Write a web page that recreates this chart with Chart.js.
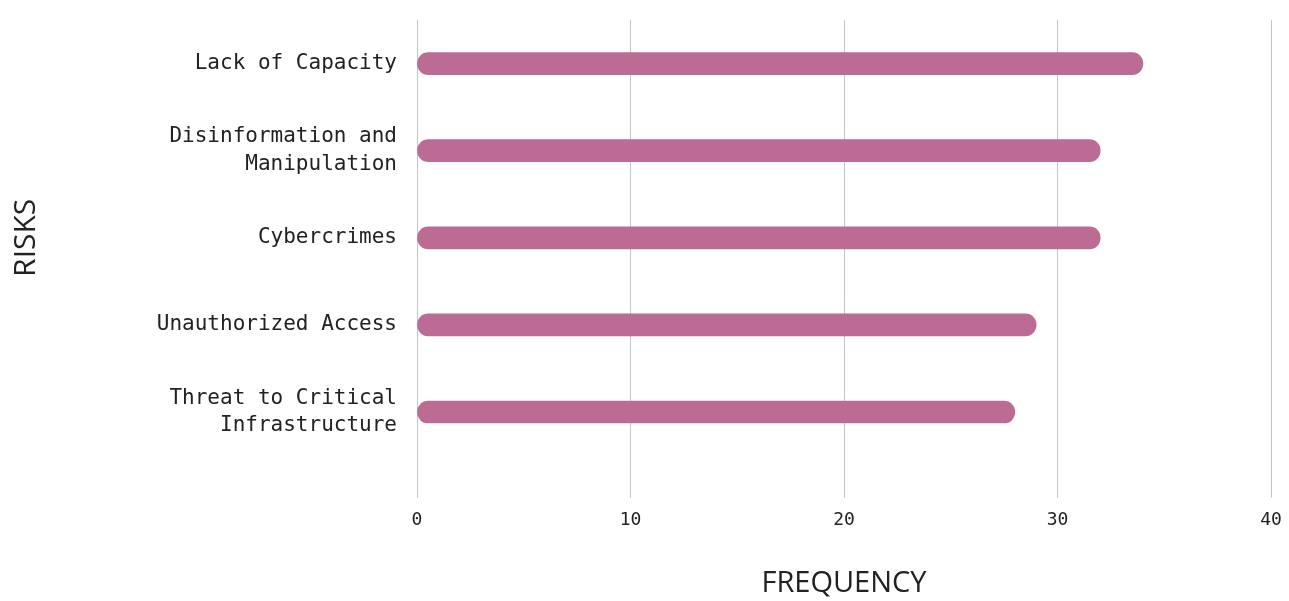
<!DOCTYPE html>
<html>
<head>
<meta charset="utf-8">
<script src="https://cdn.jsdelivr.net/npm/chart.js@4.4.1/dist/chart.umd.min.js"></script>
<style>
html,body{margin:0;padding:0;background:#fff;}
#wrap{width:1289px;height:601px;position:relative;}
</style>
</head>
<body>
<div id="wrap"><canvas id="c"></canvas></div>
<script>
const categories = [
  ["Lack of Capacity"],
  ["Disinformation and", "Manipulation"],
  ["Cybercrimes"],
  ["Unauthorized Access"],
  ["Threat to Critical", "Infrastructure"]
];
const frequency = [34, 32, 32, 29, 28];
const xTicks = [0, 10, 20, 30, 40];

const monoFont = "'DejaVu Sans Mono', monospace";
const titleFont = "'Open Sans', 'Noto Sans', sans-serif";

new Chart(document.getElementById('c'), {
  type: 'bar',
  data: {
    labels: categories,
    datasets: [{
      data: frequency,
      backgroundColor: '#bc6c94',
      borderRadius: 12,
      borderSkipped: false,
      barThickness: 22
    }]
  },
  options: {
    indexAxis: 'y',
    responsive: true,
    maintainAspectRatio: false,
    animation: false,
    layout: { padding: { top: 20, right: 18, left: 8, bottom: 0 } },
    plugins: { legend: { display: false }, tooltip: { enabled: false } },
    scales: {
      x: {
        min: 0, max: 40,
        afterBuildTicks: (s) => { s.ticks = xTicks.map(v => ({ value: v })); },
        afterFit: (s) => { s.paddingLeft = 0; s.paddingRight = 0; },
        border: { display: false },
        grid: { color: '#c4c4c4', lineWidth: 1, tickLength: 42, drawOnChartArea: true },
        ticks: { color: '#222', font: { family: monoFont, size: 18 }, padding: 12 },
        title: { display: true, text: 'FREQUENCY', color: '#222', font: { family: titleFont, size: 29 }, padding: { top: 23, bottom: 0 } }
      },
      y: {
        border: { display: false },
        grid: { display: false },
        afterFit: (s) => { s.width = 409; s.paddingTop = 0; s.paddingBottom = 0; },
        ticks: { color: '#222', font: { family: monoFont, size: 21, lineHeight: 1.3 }, padding: 12 },
        title: { display: true, text: 'RISKS', color: '#222', font: { family: titleFont, size: 30 }, padding: 0 }
      }
    }
  }
});
</script>
</body>
</html>
